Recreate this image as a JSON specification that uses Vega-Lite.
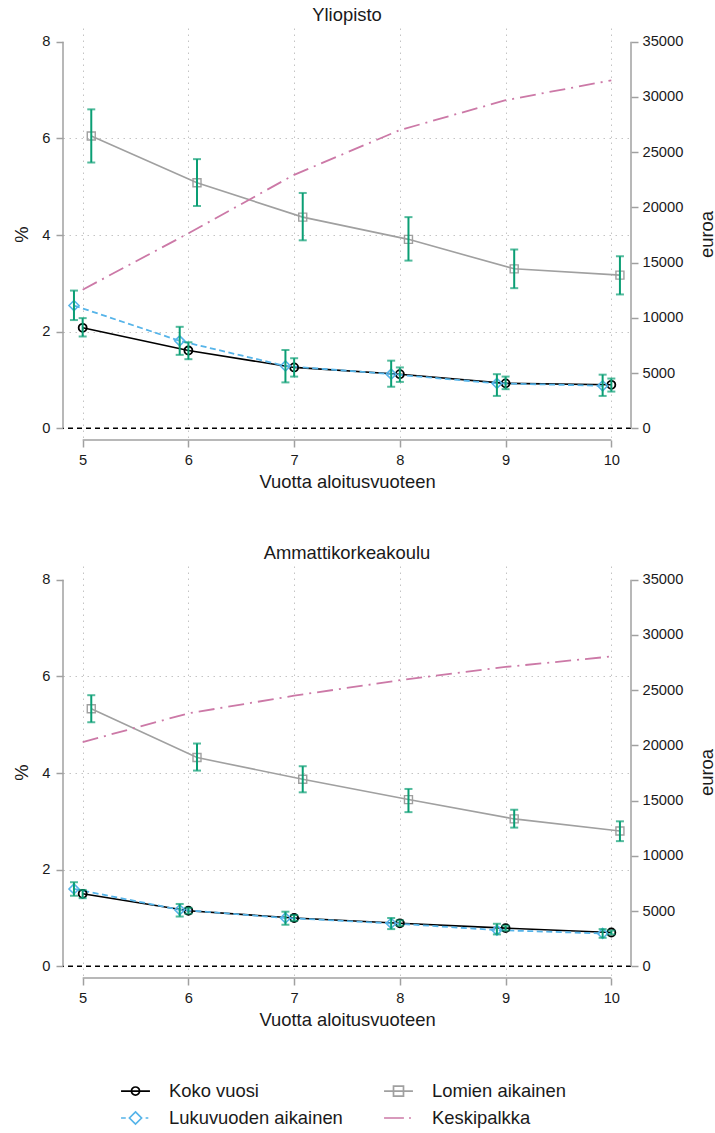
{
  "$schema": "https://vega.github.io/schema/vega-lite/v6.json",
  "padding": {"left": 12, "top": 5, "right": 0, "bottom": 0},
  "spacing": 51,
  "datasets": {
    "pct": [
      {"paneeli": "Yliopisto", "sarja": "Koko vuosi", "vuosi": 5, "osuus": 2.08, "ala": 1.90, "yla": 2.28},
      {"paneeli": "Yliopisto", "sarja": "Koko vuosi", "vuosi": 6, "osuus": 1.61, "ala": 1.43, "yla": 1.78},
      {"paneeli": "Yliopisto", "sarja": "Koko vuosi", "vuosi": 7, "osuus": 1.26, "ala": 1.07, "yla": 1.45},
      {"paneeli": "Yliopisto", "sarja": "Koko vuosi", "vuosi": 8, "osuus": 1.12, "ala": 0.96, "yla": 1.26},
      {"paneeli": "Yliopisto", "sarja": "Koko vuosi", "vuosi": 9, "osuus": 0.93, "ala": 0.81, "yla": 1.07},
      {"paneeli": "Yliopisto", "sarja": "Koko vuosi", "vuosi": 10, "osuus": 0.90, "ala": 0.76, "yla": 1.03},
      {"paneeli": "Yliopisto", "sarja": "Lukuvuoden aikainen", "vuosi": 5, "osuus": 2.54, "ala": 2.24, "yla": 2.85},
      {"paneeli": "Yliopisto", "sarja": "Lukuvuoden aikainen", "vuosi": 6, "osuus": 1.81, "ala": 1.52, "yla": 2.10},
      {"paneeli": "Yliopisto", "sarja": "Lukuvuoden aikainen", "vuosi": 7, "osuus": 1.29, "ala": 0.95, "yla": 1.62},
      {"paneeli": "Yliopisto", "sarja": "Lukuvuoden aikainen", "vuosi": 8, "osuus": 1.12, "ala": 0.86, "yla": 1.40},
      {"paneeli": "Yliopisto", "sarja": "Lukuvuoden aikainen", "vuosi": 9, "osuus": 0.93, "ala": 0.67, "yla": 1.12},
      {"paneeli": "Yliopisto", "sarja": "Lukuvuoden aikainen", "vuosi": 10, "osuus": 0.88, "ala": 0.67, "yla": 1.11},
      {"paneeli": "Yliopisto", "sarja": "Lomien aikainen", "vuosi": 5, "osuus": 6.05, "ala": 5.50, "yla": 6.60},
      {"paneeli": "Yliopisto", "sarja": "Lomien aikainen", "vuosi": 6, "osuus": 5.08, "ala": 4.60, "yla": 5.57},
      {"paneeli": "Yliopisto", "sarja": "Lomien aikainen", "vuosi": 7, "osuus": 4.37, "ala": 3.89, "yla": 4.87},
      {"paneeli": "Yliopisto", "sarja": "Lomien aikainen", "vuosi": 8, "osuus": 3.91, "ala": 3.47, "yla": 4.37},
      {"paneeli": "Yliopisto", "sarja": "Lomien aikainen", "vuosi": 9, "osuus": 3.30, "ala": 2.90, "yla": 3.70},
      {"paneeli": "Yliopisto", "sarja": "Lomien aikainen", "vuosi": 10, "osuus": 3.17, "ala": 2.77, "yla": 3.56},
      {"paneeli": "Ammattikorkeakoulu", "sarja": "Koko vuosi", "vuosi": 5, "osuus": 1.50, "ala": 1.41, "yla": 1.58},
      {"paneeli": "Ammattikorkeakoulu", "sarja": "Koko vuosi", "vuosi": 6, "osuus": 1.15, "ala": 1.09, "yla": 1.21},
      {"paneeli": "Ammattikorkeakoulu", "sarja": "Koko vuosi", "vuosi": 7, "osuus": 1.00, "ala": 0.94, "yla": 1.06},
      {"paneeli": "Ammattikorkeakoulu", "sarja": "Koko vuosi", "vuosi": 8, "osuus": 0.89, "ala": 0.84, "yla": 0.95},
      {"paneeli": "Ammattikorkeakoulu", "sarja": "Koko vuosi", "vuosi": 9, "osuus": 0.79, "ala": 0.74, "yla": 0.84},
      {"paneeli": "Ammattikorkeakoulu", "sarja": "Koko vuosi", "vuosi": 10, "osuus": 0.70, "ala": 0.66, "yla": 0.74},
      {"paneeli": "Ammattikorkeakoulu", "sarja": "Lukuvuoden aikainen", "vuosi": 5, "osuus": 1.60, "ala": 1.46, "yla": 1.74},
      {"paneeli": "Ammattikorkeakoulu", "sarja": "Lukuvuoden aikainen", "vuosi": 6, "osuus": 1.17, "ala": 1.03, "yla": 1.29},
      {"paneeli": "Ammattikorkeakoulu", "sarja": "Lukuvuoden aikainen", "vuosi": 7, "osuus": 1.00, "ala": 0.86, "yla": 1.13},
      {"paneeli": "Ammattikorkeakoulu", "sarja": "Lukuvuoden aikainen", "vuosi": 8, "osuus": 0.89, "ala": 0.77, "yla": 1.00},
      {"paneeli": "Ammattikorkeakoulu", "sarja": "Lukuvuoden aikainen", "vuosi": 9, "osuus": 0.75, "ala": 0.66, "yla": 0.88},
      {"paneeli": "Ammattikorkeakoulu", "sarja": "Lukuvuoden aikainen", "vuosi": 10, "osuus": 0.68, "ala": 0.59, "yla": 0.77},
      {"paneeli": "Ammattikorkeakoulu", "sarja": "Lomien aikainen", "vuosi": 5, "osuus": 5.33, "ala": 5.05, "yla": 5.61},
      {"paneeli": "Ammattikorkeakoulu", "sarja": "Lomien aikainen", "vuosi": 6, "osuus": 4.32, "ala": 4.05, "yla": 4.61},
      {"paneeli": "Ammattikorkeakoulu", "sarja": "Lomien aikainen", "vuosi": 7, "osuus": 3.87, "ala": 3.60, "yla": 4.14},
      {"paneeli": "Ammattikorkeakoulu", "sarja": "Lomien aikainen", "vuosi": 8, "osuus": 3.45, "ala": 3.19, "yla": 3.67},
      {"paneeli": "Ammattikorkeakoulu", "sarja": "Lomien aikainen", "vuosi": 9, "osuus": 3.05, "ala": 2.87, "yla": 3.24},
      {"paneeli": "Ammattikorkeakoulu", "sarja": "Lomien aikainen", "vuosi": 10, "osuus": 2.80, "ala": 2.59, "yla": 3.00}
    ],
    "palkka": [
      {"paneeli": "Yliopisto", "sarja": "Keskipalkka", "vuosi": 5, "palkka": 12550},
      {"paneeli": "Yliopisto", "sarja": "Keskipalkka", "vuosi": 6, "palkka": 17650},
      {"paneeli": "Yliopisto", "sarja": "Keskipalkka", "vuosi": 7, "palkka": 22950},
      {"paneeli": "Yliopisto", "sarja": "Keskipalkka", "vuosi": 8, "palkka": 27000},
      {"paneeli": "Yliopisto", "sarja": "Keskipalkka", "vuosi": 9, "palkka": 29700},
      {"paneeli": "Yliopisto", "sarja": "Keskipalkka", "vuosi": 10, "palkka": 31500},
      {"paneeli": "Ammattikorkeakoulu", "sarja": "Keskipalkka", "vuosi": 5, "palkka": 20300},
      {"paneeli": "Ammattikorkeakoulu", "sarja": "Keskipalkka", "vuosi": 6, "palkka": 22900},
      {"paneeli": "Ammattikorkeakoulu", "sarja": "Keskipalkka", "vuosi": 7, "palkka": 24500},
      {"paneeli": "Ammattikorkeakoulu", "sarja": "Keskipalkka", "vuosi": 8, "palkka": 25900},
      {"paneeli": "Ammattikorkeakoulu", "sarja": "Keskipalkka", "vuosi": 9, "palkka": 27100},
      {"paneeli": "Ammattikorkeakoulu", "sarja": "Keskipalkka", "vuosi": 10, "palkka": 28050}
    ]
  },
  "vconcat": [
    {
      "title": {"text": "Yliopisto"},
      "width": 568,
      "height": 412,
      "layer": [
        {
          "data": {"name": "pct"},
          "transform": [{"filter": "datum.paneeli === 'Yliopisto'"}],
          "layer": [
            {
              "transform": [{"filter": "datum.sarja === 'Koko vuosi'"}],
              "mark": {"type": "line", "color": "#000000", "strokeWidth": 1.6},
              "encoding": {
                "x": {"field": "vuosi", "type": "quantitative", "scale": {"domain": [4.814, 10.186], "nice": false, "zero": false},
                  "axis": {"values": [5, 6, 7, 8, 9, 10], "format": "d", "title": "Vuotta aloitusvuoteen", "labelPadding": 5, "titlePadding": 6, "labelFlush": false}},
                "y": {"field": "osuus", "type": "quantitative", "scale": {"domain": [-0.242, 8.2835], "nice": false, "zero": false},
                  "axis": {"values": [0, 2, 4, 6, 8], "format": "d", "title": "%", "titleX": -36, "titleY": 206, "titleAngle": 270, "titleBaseline": "alphabetic", "labelPadding": 6,
                    "gridOpacity": {"condition": {"test": "datum.value === 0 || datum.value === 8", "value": 0}, "value": 1}}},
                "color": {"field": "sarja", "type": "nominal",
                  "scale": {"domain": ["Koko vuosi", "Lukuvuoden aikainen", "Lomien aikainen", "Keskipalkka"], "range": ["#000000", "#56B4E9", "#a0a0a0", "#CC79A7"]},
                  "legend": {
                    "orient": "none", "legendX": 58, "legendY": 1048.5, "columns": 2, "title": null,
                    "symbolSize": 729, "symbolStrokeWidth": 1.7, "labelFontSize": 18.4, "labelColor": "#1a1a1a", "labelOffset": 19,
                    "columnPadding": 37, "rowPadding": 3, "padding": 0, "labelLimit": 400,
                    "encode": {"symbols": {"update": {
                      "shape": {"signal": "datum.value === 'Koko vuosi' ? 'M-1.07,0L1.07,0M0.3,0C0.3,0.166,0.166,0.3,0,0.3C-0.166,0.3,-0.3,0.166,-0.3,0C-0.3,-0.166,-0.166,-0.3,0,-0.3C0.166,-0.3,0.3,-0.166,0.3,0Z' : datum.value === 'Lukuvuoden aikainen' ? 'M-1.07,0L-0.72,0M0,-0.45L0.45,0L0,0.45L-0.45,0ZM0.75,0L0.95,0' : datum.value === 'Lomien aikainen' ? 'M-1.07,0L1.07,0M-0.37,-0.37L0.37,-0.37L0.37,0.37L-0.37,0.37Z' : 'M-1.07,0L0.4,0M0.78,0L0.92,0'"},
                      "fill": {"value": "transparent"},
                      "strokeDash": {"value": []},
                      "opacity": {"value": 1}
                    }}}
                  }}
              }
            },
            {
              "transform": [{"filter": "datum.sarja === 'Lukuvuoden aikainen'"}],
              "mark": {"type": "line", "color": "#56B4E9", "strokeWidth": 1.8, "strokeDash": [6, 3.5], "xOffset": -8.7},
              "encoding": {
                "x": {"field": "vuosi", "type": "quantitative", "scale": {"domain": [4.814, 10.186], "nice": false, "zero": false}},
                "y": {"field": "osuus", "type": "quantitative", "scale": {"domain": [-0.242, 8.2835], "nice": false, "zero": false}}
              }
            },
            {
              "transform": [{"filter": "datum.sarja === 'Lomien aikainen'"}],
              "mark": {"type": "line", "color": "#a0a0a0", "strokeWidth": 1.6, "xOffset": 8.6},
              "encoding": {
                "x": {"field": "vuosi", "type": "quantitative", "scale": {"domain": [4.814, 10.186], "nice": false, "zero": false}},
                "y": {"field": "osuus", "type": "quantitative", "scale": {"domain": [-0.242, 8.2835], "nice": false, "zero": false}}
              }
            },
            {
              "data": {"values": [{}]},
              "mark": {"type": "rule", "color": "#000000", "strokeWidth": 1.5, "strokeDash": [5, 4]},
              "encoding": {"y": {"datum": 0, "scale": {"domain": [-0.242, 8.2835], "nice": false, "zero": false}}}
            },
            {
              "transform": [{"filter": "datum.sarja === 'Koko vuosi'"}],
              "mark": {"type": "point", "shape": "circle", "filled": false, "size": 64, "strokeWidth": 1.8, "color": "#000000", "opacity": 1},
              "encoding": {
                "x": {"field": "vuosi", "type": "quantitative", "scale": {"domain": [4.814, 10.186], "nice": false, "zero": false}},
                "y": {"field": "osuus", "type": "quantitative", "scale": {"domain": [-0.242, 8.2835], "nice": false, "zero": false}}
              }
            },
            {
              "transform": [{"filter": "datum.sarja === 'Lukuvuoden aikainen'"}],
              "mark": {"type": "point", "shape": "diamond", "filled": false, "size": 100, "strokeWidth": 1.6, "color": "#56B4E9", "opacity": 1, "xOffset": -8.7},
              "encoding": {
                "x": {"field": "vuosi", "type": "quantitative", "scale": {"domain": [4.814, 10.186], "nice": false, "zero": false}},
                "y": {"field": "osuus", "type": "quantitative", "scale": {"domain": [-0.242, 8.2835], "nice": false, "zero": false}}
              }
            },
            {
              "transform": [{"filter": "datum.sarja === 'Lomien aikainen'"}],
              "mark": {"type": "point", "shape": "square", "filled": false, "size": 64, "strokeWidth": 1.4, "color": "#a0a0a0", "opacity": 1, "xOffset": 8.6},
              "encoding": {
                "x": {"field": "vuosi", "type": "quantitative", "scale": {"domain": [4.814, 10.186], "nice": false, "zero": false}},
                "y": {"field": "osuus", "type": "quantitative", "scale": {"domain": [-0.242, 8.2835], "nice": false, "zero": false}}
              }
            },
            {
              "transform": [{"filter": "datum.sarja === 'Koko vuosi'"}],
              "mark": {"type": "rule", "color": "#0a9e74", "strokeWidth": 2},
              "encoding": {
                "x": {"field": "vuosi", "type": "quantitative", "scale": {"domain": [4.814, 10.186], "nice": false, "zero": false}},
                "y": {"field": "ala", "type": "quantitative", "scale": {"domain": [-0.242, 8.2835], "nice": false, "zero": false}},
                "y2": {"field": "yla"}
              }
            },
            {
              "transform": [{"filter": "datum.sarja === 'Lukuvuoden aikainen'"}],
              "mark": {"type": "rule", "color": "#0a9e74", "strokeWidth": 2, "xOffset": -8.7},
              "encoding": {
                "x": {"field": "vuosi", "type": "quantitative", "scale": {"domain": [4.814, 10.186], "nice": false, "zero": false}},
                "y": {"field": "ala", "type": "quantitative", "scale": {"domain": [-0.242, 8.2835], "nice": false, "zero": false}},
                "y2": {"field": "yla"}
              }
            },
            {
              "transform": [{"filter": "datum.sarja === 'Lomien aikainen'"}],
              "mark": {"type": "rule", "color": "#0a9e74", "strokeWidth": 2, "xOffset": 8.6},
              "encoding": {
                "x": {"field": "vuosi", "type": "quantitative", "scale": {"domain": [4.814, 10.186], "nice": false, "zero": false}},
                "y": {"field": "ala", "type": "quantitative", "scale": {"domain": [-0.242, 8.2835], "nice": false, "zero": false}},
                "y2": {"field": "yla"}
              }
            },
            {
              "transform": [{"filter": "datum.sarja === 'Koko vuosi'"}, {"fold": ["ala", "yla"], "as": ["raja", "arvo"]}],
              "mark": {"type": "tick", "orient": "horizontal", "size": 8, "thickness": 2, "color": "#0a9e74"},
              "encoding": {
                "x": {"field": "vuosi", "type": "quantitative", "scale": {"domain": [4.814, 10.186], "nice": false, "zero": false}},
                "y": {"field": "arvo", "type": "quantitative", "scale": {"domain": [-0.242, 8.2835], "nice": false, "zero": false}}
              }
            },
            {
              "transform": [{"filter": "datum.sarja === 'Lukuvuoden aikainen'"}, {"fold": ["ala", "yla"], "as": ["raja", "arvo"]}],
              "mark": {"type": "tick", "orient": "horizontal", "size": 8, "thickness": 2, "color": "#0a9e74", "xOffset": -8.7},
              "encoding": {
                "x": {"field": "vuosi", "type": "quantitative", "scale": {"domain": [4.814, 10.186], "nice": false, "zero": false}},
                "y": {"field": "arvo", "type": "quantitative", "scale": {"domain": [-0.242, 8.2835], "nice": false, "zero": false}}
              }
            },
            {
              "transform": [{"filter": "datum.sarja === 'Lomien aikainen'"}, {"fold": ["ala", "yla"], "as": ["raja", "arvo"]}],
              "mark": {"type": "tick", "orient": "horizontal", "size": 8, "thickness": 2, "color": "#0a9e74", "xOffset": 8.6},
              "encoding": {
                "x": {"field": "vuosi", "type": "quantitative", "scale": {"domain": [4.814, 10.186], "nice": false, "zero": false}},
                "y": {"field": "arvo", "type": "quantitative", "scale": {"domain": [-0.242, 8.2835], "nice": false, "zero": false}}
              }
            },
            {
              "data": {"values": [{}]},
              "mark": {"type": "rule", "color": "#a0a0a0", "strokeWidth": 1.5},
              "encoding": {
                "x": {"datum": 5, "scale": {"domain": [4.814, 10.186], "nice": false, "zero": false}},
                "x2": {"datum": 10},
                "y": {"datum": -0.242, "scale": {"domain": [-0.242, 8.2835], "nice": false, "zero": false}}
              }
            },
            {
              "data": {"values": [{}]},
              "mark": {"type": "rule", "color": "#a0a0a0", "strokeWidth": 1.5},
              "encoding": {
                "x": {"datum": 4.814, "scale": {"domain": [4.814, 10.186], "nice": false, "zero": false}},
                "y": {"datum": 0, "scale": {"domain": [-0.242, 8.2835], "nice": false, "zero": false}},
                "y2": {"datum": 8}
              }
            },
            {
              "data": {"values": [{}]},
              "mark": {"type": "rule", "color": "#a0a0a0", "strokeWidth": 1.5},
              "encoding": {
                "x": {"datum": 10.186, "scale": {"domain": [4.814, 10.186], "nice": false, "zero": false}},
                "y": {"datum": 0, "scale": {"domain": [-0.242, 8.2835], "nice": false, "zero": false}},
                "y2": {"datum": 8}
              }
            }
          ]
        },
        {
          "data": {"name": "palkka"},
          "transform": [{"filter": "datum.paneeli === 'Yliopisto'"}],
          "mark": {"type": "line", "color": "#CC79A7", "strokeWidth": 1.8, "strokeDash": [16, 6, 2, 6]},
          "encoding": {
            "x": {"field": "vuosi", "type": "quantitative", "scale": {"domain": [4.814, 10.186], "nice": false, "zero": false}},
            "y": {"field": "palkka", "type": "quantitative", "scale": {"domain": [-1058.75, 36240.3], "nice": false, "zero": false},
              "axis": {"orient": "right", "values": [0, 5000, 10000, 15000, 20000, 25000, 30000, 35000], "format": "d", "title": "euroa", "grid": false, "labelPadding": 4,
                "titleAngle": 270, "titleX": 81, "titleY": 206, "titleBaseline": "alphabetic"}}
          }
        }
      ],
      "resolve": {"scale": {"y": "independent"}}
    },
    {
      "title": {"text": "Ammattikorkeakoulu"},
      "width": 568,
      "height": 412,
      "layer": [
        {
          "data": {"name": "pct"},
          "transform": [{"filter": "datum.paneeli === 'Ammattikorkeakoulu'"}],
          "layer": [
            {
              "transform": [{"filter": "datum.sarja === 'Koko vuosi'"}],
              "mark": {"type": "line", "color": "#000000", "strokeWidth": 1.6},
              "encoding": {
                "x": {"field": "vuosi", "type": "quantitative", "scale": {"domain": [4.814, 10.186], "nice": false, "zero": false},
                  "axis": {"values": [5, 6, 7, 8, 9, 10], "format": "d", "title": "Vuotta aloitusvuoteen", "labelPadding": 5, "titlePadding": 6, "labelFlush": false}},
                "y": {"field": "osuus", "type": "quantitative", "scale": {"domain": [-0.242, 8.2835], "nice": false, "zero": false},
                  "axis": {"values": [0, 2, 4, 6, 8], "format": "d", "title": "%", "titleX": -36, "titleY": 206, "titleAngle": 270, "titleBaseline": "alphabetic", "labelPadding": 6,
                    "gridOpacity": {"condition": {"test": "datum.value === 0 || datum.value === 8", "value": 0}, "value": 1}}}
              }
            },
            {
              "transform": [{"filter": "datum.sarja === 'Lukuvuoden aikainen'"}],
              "mark": {"type": "line", "color": "#56B4E9", "strokeWidth": 1.8, "strokeDash": [6, 3.5], "xOffset": -8.7},
              "encoding": {
                "x": {"field": "vuosi", "type": "quantitative", "scale": {"domain": [4.814, 10.186], "nice": false, "zero": false}},
                "y": {"field": "osuus", "type": "quantitative", "scale": {"domain": [-0.242, 8.2835], "nice": false, "zero": false}}
              }
            },
            {
              "transform": [{"filter": "datum.sarja === 'Lomien aikainen'"}],
              "mark": {"type": "line", "color": "#a0a0a0", "strokeWidth": 1.6, "xOffset": 8.6},
              "encoding": {
                "x": {"field": "vuosi", "type": "quantitative", "scale": {"domain": [4.814, 10.186], "nice": false, "zero": false}},
                "y": {"field": "osuus", "type": "quantitative", "scale": {"domain": [-0.242, 8.2835], "nice": false, "zero": false}}
              }
            },
            {
              "data": {"values": [{}]},
              "mark": {"type": "rule", "color": "#000000", "strokeWidth": 1.5, "strokeDash": [5, 4]},
              "encoding": {"y": {"datum": 0, "scale": {"domain": [-0.242, 8.2835], "nice": false, "zero": false}}}
            },
            {
              "transform": [{"filter": "datum.sarja === 'Koko vuosi'"}],
              "mark": {"type": "point", "shape": "circle", "filled": false, "size": 64, "strokeWidth": 1.8, "color": "#000000", "opacity": 1},
              "encoding": {
                "x": {"field": "vuosi", "type": "quantitative", "scale": {"domain": [4.814, 10.186], "nice": false, "zero": false}},
                "y": {"field": "osuus", "type": "quantitative", "scale": {"domain": [-0.242, 8.2835], "nice": false, "zero": false}}
              }
            },
            {
              "transform": [{"filter": "datum.sarja === 'Lukuvuoden aikainen'"}],
              "mark": {"type": "point", "shape": "diamond", "filled": false, "size": 100, "strokeWidth": 1.6, "color": "#56B4E9", "opacity": 1, "xOffset": -8.7},
              "encoding": {
                "x": {"field": "vuosi", "type": "quantitative", "scale": {"domain": [4.814, 10.186], "nice": false, "zero": false}},
                "y": {"field": "osuus", "type": "quantitative", "scale": {"domain": [-0.242, 8.2835], "nice": false, "zero": false}}
              }
            },
            {
              "transform": [{"filter": "datum.sarja === 'Lomien aikainen'"}],
              "mark": {"type": "point", "shape": "square", "filled": false, "size": 64, "strokeWidth": 1.4, "color": "#a0a0a0", "opacity": 1, "xOffset": 8.6},
              "encoding": {
                "x": {"field": "vuosi", "type": "quantitative", "scale": {"domain": [4.814, 10.186], "nice": false, "zero": false}},
                "y": {"field": "osuus", "type": "quantitative", "scale": {"domain": [-0.242, 8.2835], "nice": false, "zero": false}}
              }
            },
            {
              "transform": [{"filter": "datum.sarja === 'Koko vuosi'"}],
              "mark": {"type": "rule", "color": "#0a9e74", "strokeWidth": 2},
              "encoding": {
                "x": {"field": "vuosi", "type": "quantitative", "scale": {"domain": [4.814, 10.186], "nice": false, "zero": false}},
                "y": {"field": "ala", "type": "quantitative", "scale": {"domain": [-0.242, 8.2835], "nice": false, "zero": false}},
                "y2": {"field": "yla"}
              }
            },
            {
              "transform": [{"filter": "datum.sarja === 'Lukuvuoden aikainen'"}],
              "mark": {"type": "rule", "color": "#0a9e74", "strokeWidth": 2, "xOffset": -8.7},
              "encoding": {
                "x": {"field": "vuosi", "type": "quantitative", "scale": {"domain": [4.814, 10.186], "nice": false, "zero": false}},
                "y": {"field": "ala", "type": "quantitative", "scale": {"domain": [-0.242, 8.2835], "nice": false, "zero": false}},
                "y2": {"field": "yla"}
              }
            },
            {
              "transform": [{"filter": "datum.sarja === 'Lomien aikainen'"}],
              "mark": {"type": "rule", "color": "#0a9e74", "strokeWidth": 2, "xOffset": 8.6},
              "encoding": {
                "x": {"field": "vuosi", "type": "quantitative", "scale": {"domain": [4.814, 10.186], "nice": false, "zero": false}},
                "y": {"field": "ala", "type": "quantitative", "scale": {"domain": [-0.242, 8.2835], "nice": false, "zero": false}},
                "y2": {"field": "yla"}
              }
            },
            {
              "transform": [{"filter": "datum.sarja === 'Koko vuosi'"}, {"fold": ["ala", "yla"], "as": ["raja", "arvo"]}],
              "mark": {"type": "tick", "orient": "horizontal", "size": 8, "thickness": 2, "color": "#0a9e74"},
              "encoding": {
                "x": {"field": "vuosi", "type": "quantitative", "scale": {"domain": [4.814, 10.186], "nice": false, "zero": false}},
                "y": {"field": "arvo", "type": "quantitative", "scale": {"domain": [-0.242, 8.2835], "nice": false, "zero": false}}
              }
            },
            {
              "transform": [{"filter": "datum.sarja === 'Lukuvuoden aikainen'"}, {"fold": ["ala", "yla"], "as": ["raja", "arvo"]}],
              "mark": {"type": "tick", "orient": "horizontal", "size": 8, "thickness": 2, "color": "#0a9e74", "xOffset": -8.7},
              "encoding": {
                "x": {"field": "vuosi", "type": "quantitative", "scale": {"domain": [4.814, 10.186], "nice": false, "zero": false}},
                "y": {"field": "arvo", "type": "quantitative", "scale": {"domain": [-0.242, 8.2835], "nice": false, "zero": false}}
              }
            },
            {
              "transform": [{"filter": "datum.sarja === 'Lomien aikainen'"}, {"fold": ["ala", "yla"], "as": ["raja", "arvo"]}],
              "mark": {"type": "tick", "orient": "horizontal", "size": 8, "thickness": 2, "color": "#0a9e74", "xOffset": 8.6},
              "encoding": {
                "x": {"field": "vuosi", "type": "quantitative", "scale": {"domain": [4.814, 10.186], "nice": false, "zero": false}},
                "y": {"field": "arvo", "type": "quantitative", "scale": {"domain": [-0.242, 8.2835], "nice": false, "zero": false}}
              }
            },
            {
              "data": {"values": [{}]},
              "mark": {"type": "rule", "color": "#a0a0a0", "strokeWidth": 1.5},
              "encoding": {
                "x": {"datum": 5, "scale": {"domain": [4.814, 10.186], "nice": false, "zero": false}},
                "x2": {"datum": 10},
                "y": {"datum": -0.242, "scale": {"domain": [-0.242, 8.2835], "nice": false, "zero": false}}
              }
            },
            {
              "data": {"values": [{}]},
              "mark": {"type": "rule", "color": "#a0a0a0", "strokeWidth": 1.5},
              "encoding": {
                "x": {"datum": 4.814, "scale": {"domain": [4.814, 10.186], "nice": false, "zero": false}},
                "y": {"datum": 0, "scale": {"domain": [-0.242, 8.2835], "nice": false, "zero": false}},
                "y2": {"datum": 8}
              }
            },
            {
              "data": {"values": [{}]},
              "mark": {"type": "rule", "color": "#a0a0a0", "strokeWidth": 1.5},
              "encoding": {
                "x": {"datum": 10.186, "scale": {"domain": [4.814, 10.186], "nice": false, "zero": false}},
                "y": {"datum": 0, "scale": {"domain": [-0.242, 8.2835], "nice": false, "zero": false}},
                "y2": {"datum": 8}
              }
            }
          ]
        },
        {
          "data": {"name": "palkka"},
          "transform": [{"filter": "datum.paneeli === 'Ammattikorkeakoulu'"}],
          "mark": {"type": "line", "color": "#CC79A7", "strokeWidth": 1.8, "strokeDash": [16, 6, 2, 6]},
          "encoding": {
            "x": {"field": "vuosi", "type": "quantitative", "scale": {"domain": [4.814, 10.186], "nice": false, "zero": false}},
            "y": {"field": "palkka", "type": "quantitative", "scale": {"domain": [-1058.75, 36240.3], "nice": false, "zero": false},
              "axis": {"orient": "right", "values": [0, 5000, 10000, 15000, 20000, 25000, 30000, 35000], "format": "d", "title": "euroa", "grid": false, "labelPadding": 4,
                "titleAngle": 270, "titleX": 81, "titleY": 206, "titleBaseline": "alphabetic"}}
          }
        }
      ],
      "resolve": {"scale": {"y": "independent"}}
    }
  ],
  "config": {
    "font": "Liberation Sans",
    "view": {"stroke": null},
    "axis": {
      "domain": false, "labelFontSize": 14.7, "labelColor": "#1a1a1a", "titleFontSize": 18.4, "titleFontWeight": "normal", "titleColor": "#1a1a1a",
      "tickColor": "#a0a0a0", "tickWidth": 1.5, "tickSize": 7, "gridColor": "#c4c4c4", "gridDash": [1.5, 4.5], "gridWidth": 1, "labelOverlap": false
    },
    "title": {"fontSize": 18.4, "fontWeight": "normal", "color": "#1a1a1a", "offset": 4, "baseline": "alphabetic", "anchor": "middle", "frame": "group"}
  }
}
